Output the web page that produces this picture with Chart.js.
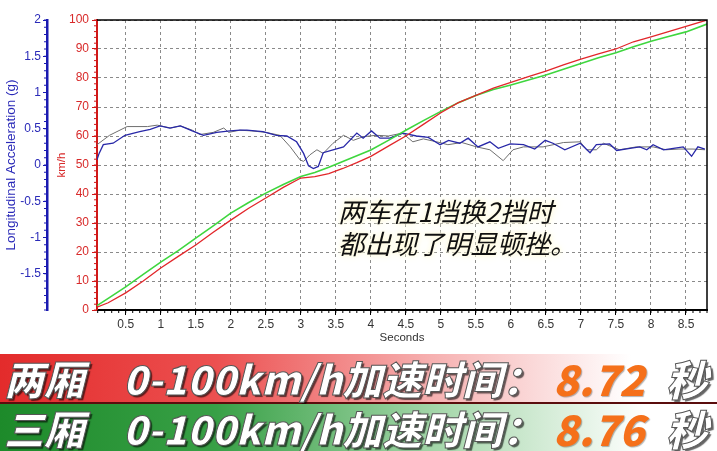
<!DOCTYPE html>
<html>
<head>
<meta charset="utf-8">
<script src="https://cdn.jsdelivr.net/npm/chart.js@4.4.1/dist/chart.umd.min.js"></script>
<style>
	html, body { margin: 0; padding: 0; background: #fff; }
	#wrap { position: relative; width: 717px; height: 451px; overflow: hidden; }
	#chart { position: absolute; left: 0; top: 0; }
	.note {
		position: absolute; left: 338px; top: 195px;
		font: italic 400 26.5px/32px "Noto Sans CJK SC", sans-serif; color: #111;
		text-shadow: 0 0 3px #fffbe0, 0 0 5px #fffbe0, 0 0 8px #fff6cc;
		white-space: nowrap;
	}
	.band { position: absolute; left: 0; width: 717px; }
	.band span {
		position: absolute; top: 0;
		font: italic 900 40px/48px "Noto Sans CJK SC", sans-serif; color: #fff;
		-webkit-text-stroke: 1px #555;
		text-shadow: 2px 2px 1px rgba(0, 0, 0, 0.6);
		white-space: nowrap;
	}
	.band .big { font-size: 42px; }
	.band .num { color: #f5701a; -webkit-text-stroke: 0; text-shadow: 1px 1px 1px rgba(0, 0, 0, 0.3); }
	#red { top: 354px; height: 48px; border-bottom: 2px solid #5a0d0d;
		background: linear-gradient(to right, #e32b2b 0%, #ec5050 30%, #f6b0b0 60%, #fff 88%); }
	#green { top: 404px; height: 47px;
		background: linear-gradient(to right, #1d8a2a 0%, #38a046 30%, #a8d8ad 62%, #fff 90%); }
</style>
</head>
<body>
<div id="wrap">
	<canvas id="chart" width="717" height="451"></canvas>
	<div class="note">两车在1挡换2挡时<br>都出现了明显顿挫。</div>
	<div class="band" id="red">
		<span style="left:4px">两厢</span>
		<span style="left:123px">0-100km/h加速时间：</span>
		<span class="big num" style="left:553px">8.72</span>
		<span class="big" style="left:666px">秒</span>
	</div>
	<div class="band" id="green">
		<span style="left:4px">三厢</span>
		<span style="left:123px">0-100km/h加速时间：</span>
		<span class="big num" style="left:553px">8.76</span>
		<span class="big" style="left:666px">秒</span>
	</div>
</div>
<script>
// ticks
const xTicks = [0.5, 1, 1.5, 2, 2.5, 3, 3.5, 4, 4.5, 5, 5.5, 6, 6.5, 7, 7.5, 8, 8.5];
const speedTicks = [0, 10, 20, 30, 40, 50, 60, 70, 80, 90, 100];
const accelTicks = [-1.5, -1, -0.5, 0, 0.5, 1, 1.5, 2];

// speed, km/h
const speedTime = [0.09, 0.25, 0.5, 0.75, 1, 1.25, 1.5, 1.75, 2, 2.25, 2.5, 2.75, 3, 3.2, 3.4, 3.6, 3.8, 4, 4.25, 4.5, 4.75, 5, 5.25, 5.5, 5.75, 6, 6.25, 6.5, 6.75, 7, 7.25, 7.5, 7.75, 8, 8.25, 8.5, 8.8];
const speedRed = [1, 2.5, 5.9, 10, 14.5, 18.5, 22.4, 26.8, 31, 35, 38.6, 42.3, 45.5, 46, 47, 48.8, 50.8, 53, 56.5, 60, 64, 68, 71.5, 74, 76.5, 78.5, 80.5, 82.4, 84.5, 86.5, 88.3, 90, 92.5, 94.2, 96, 97.8, 100];
const speedGreen = [1.5, 4, 8, 12.3, 16.5, 20.5, 24.8, 29, 33.4, 37, 40.3, 43.3, 46, 47.4, 49.2, 51.2, 53.2, 55.2, 58.5, 62, 65.3, 68.5, 71.5, 74, 76, 77.6, 79.3, 81, 83, 85, 87, 88.7, 90.8, 92.7, 94.3, 95.9, 98.6];

// longitudinal acceleration, g
const blueTime = [0.09, 0.12, 0.18, 0.32, 0.49, 0.7, 0.85, 0.99, 1.13, 1.28, 1.45, 1.61, 1.8, 1.99, 2.13, 2.23, 2.46, 2.65, 2.8, 2.94, 3.04, 3.11, 3.18, 3.25, 3.32, 3.46, 3.61, 3.8, 3.89, 4.01, 4.13, 4.27, 4.46, 4.65, 4.82, 4.99, 5.11, 5.27, 5.39, 5.53, 5.7, 5.82, 5.99, 6.18, 6.34, 6.49, 6.6, 6.77, 6.99, 7.13, 7.22, 7.41, 7.51, 7.7, 7.84, 7.94, 8.03, 8.18, 8.32, 8.46, 8.58, 8.67, 8.77];
const accelBlue = [0.07, 0.16, 0.28, 0.3, 0.41, 0.46, 0.49, 0.54, 0.51, 0.54, 0.47, 0.41, 0.45, 0.47, 0.48, 0.48, 0.46, 0.41, 0.4, 0.32, 0.16, -0.01, -0.05, -0.02, 0.17, 0.21, 0.25, 0.44, 0.37, 0.47, 0.37, 0.37, 0.44, 0.4, 0.38, 0.28, 0.34, 0.3, 0.37, 0.25, 0.32, 0.23, 0.29, 0.28, 0.22, 0.34, 0.3, 0.21, 0.3, 0.17, 0.28, 0.29, 0.2, 0.23, 0.25, 0.21, 0.28, 0.21, 0.23, 0.25, 0.12, 0.25, 0.22];
const grayTime = [0.09, 0.27, 0.52, 0.81, 0.95, 1.14, 1.28, 1.45, 1.56, 1.75, 1.9, 1.97, 2.13, 2.3, 2.5, 2.7, 2.85, 2.99, 3.04, 3.13, 3.23, 3.32, 3.46, 3.61, 3.75, 3.89, 4.08, 4.25, 4.45, 4.6, 4.75, 4.94, 5.1, 5.3, 5.51, 5.7, 5.89, 6.03, 6.18, 6.46, 6.75, 6.99, 7.08, 7.22, 7.32, 7.55, 7.79, 8.03, 8.22, 8.4, 8.6, 8.77];
const accelGray = [0.28, 0.41, 0.53, 0.53, 0.55, 0.51, 0.54, 0.48, 0.42, 0.45, 0.51, 0.45, 0.48, 0.47, 0.45, 0.41, 0.25, 0.07, 0.05, 0.14, 0.21, 0.16, 0.3, 0.41, 0.34, 0.39, 0.41, 0.4, 0.44, 0.32, 0.36, 0.32, 0.28, 0.31, 0.25, 0.21, 0.06, 0.21, 0.25, 0.25, 0.31, 0.32, 0.21, 0.21, 0.3, 0.21, 0.25, 0.25, 0.21, 0.22, 0.22, 0.21];

const family = '"Liberation Sans", Arial, sans-serif';

function points(xs, ys) {
	return xs.map(function(x, i) { return { x: x, y: ys[i] }; });
}

function fixedTicks(list) {
	return function(scale) {
		scale.ticks = list.map(function(v) { return { value: v }; });
	};
}

// small ticks between the labelled ones
const minorTicks = {
	id: 'minorTicks',
	afterDraw: function(chart) {
		let ctx = chart.ctx,
			steps = { x: 0.1, v: 2, g: 0.1 },
			colours = { x: '#000', v: '#d01818', g: '#1a1ab0' };

		ctx.save();
		ctx.lineWidth = 1;
		Object.keys(steps).forEach(function(id) {
			let scale = chart.scales[id],
				step = steps[id];

			ctx.strokeStyle = colours[id];
			ctx.beginPath();
			for (let i = Math.ceil(scale.min / step - 1e-9); i * step <= scale.max + 1e-9; i++) {
				let p = scale.getPixelForValue(i * step);
				if (id === 'x') {
					ctx.moveTo(p, scale.top);
					ctx.lineTo(p, scale.top + 3);
				} else {
					ctx.moveTo(scale.right, p);
					ctx.lineTo(scale.right - 3, p);
				}
			}
			ctx.stroke();
		});
		ctx.restore();
	}
};

// black frame on top and right of the plot
const frame = {
	id: 'frame',
	afterDraw: function(chart) {
		let ctx = chart.ctx,
			a = chart.chartArea;

		ctx.save();
		ctx.strokeStyle = '#000';
		ctx.lineWidth = 1.5;
		ctx.beginPath();
		ctx.moveTo(a.left, a.top);
		ctx.lineTo(a.right, a.top);
		ctx.lineTo(a.right, a.bottom);
		ctx.stroke();
		ctx.restore();
	}
};

new Chart(document.getElementById('chart'), {
	type: 'line',
	data: {
		datasets: [
			{ data: points(speedTime, speedRed), yAxisID: 'v', borderColor: '#e2262a', borderWidth: 1.3 },
			{ data: points(speedTime, speedGreen), yAxisID: 'v', borderColor: '#3ed63e', borderWidth: 1.6 },
			{ data: points(blueTime, accelBlue), yAxisID: 'g', borderColor: '#2828a8', borderWidth: 1.3 },
			{ data: points(grayTime, accelGray), yAxisID: 'g', borderColor: '#6e6e6e', borderWidth: 1 }
		]
	},
	options: {
		responsive: false,
		animation: false,
		elements: { point: { radius: 0 }, line: { tension: 0 } },
		layout: { padding: { top: 20, right: 10, bottom: 105, left: 0 } },
		plugins: { legend: { display: false }, tooltip: { enabled: false } },
		scales: {
			x: {
				type: 'linear',
				position: 'bottom',
				min: 0.09,
				max: 8.8,
				afterBuildTicks: fixedTicks(xTicks),
				afterFit: function(s) { s.height = 36; },
				ticks: { color: '#333', font: { size: 12, family: family }, padding: 2, maxRotation: 0, autoSkip: false,
					callback: function(v) { return String(v); } },
				grid: { color: '#8a8a8a', tickColor: '#000', tickLength: 5 },
				border: { color: '#000', width: 2, dash: [3, 3] },
				title: { display: true, text: 'Seconds', color: '#333', font: { size: 11.5, family: family }, padding: { top: 0, bottom: 1 } }
			},
			v: {
				position: 'left',
				weight: 1,
				min: 0,
				max: 100,
				afterBuildTicks: fixedTicks(speedTicks),
				afterFit: function(s) { s.width = 50; },
				ticks: { color: '#d82a2a', font: { size: 12, family: family }, padding: 3,
					callback: function(v) { return String(v); } },
				grid: { color: '#8a8a8a', tickColor: '#d01818', tickLength: 5 },
				border: { color: '#d01818', width: 2, dash: [3, 3] },
				title: { display: true, text: 'km/h', color: '#d82a2a', font: { size: 11.5, family: family }, padding: { top: 8, bottom: 0 } }
			},
			g: {
				position: 'left',
				weight: 2,
				min: -2,
				max: 2,
				afterBuildTicks: fixedTicks(accelTicks),
				afterFit: function(s) { s.width = 47; },
				ticks: { color: '#2a2ab8', font: { size: 12, family: family }, padding: 2,
					callback: function(v) { return String(v); } },
				grid: { drawOnChartArea: false, tickColor: '#1a1ab0', tickLength: 4 },
				border: { color: '#1a1ab0', width: 2.5 },
				title: { display: true, text: 'Longitudinal Acceleration (g)', color: '#2a2ab8', font: { size: 13.5, family: family }, padding: { top: 3, bottom: 0 } }
			}
		}
	},
	plugins: [minorTicks, frame]
});
</script>
</body>
</html>
